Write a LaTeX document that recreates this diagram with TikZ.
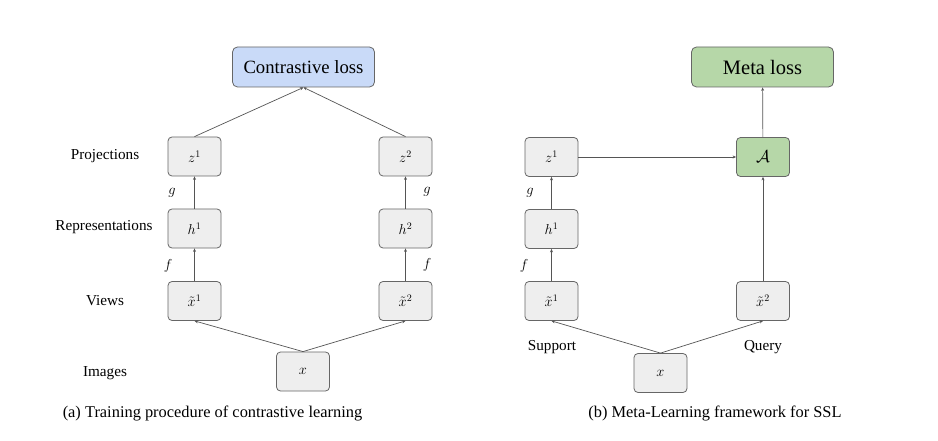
\documentclass[tikz,border=0pt]{standalone}
\usepackage{fontspec}
\setmainfont{Liberation Serif}
\usetikzlibrary{arrows.meta}
\definecolor{boxfill}{HTML}{EEEEEE}
\definecolor{boxdraw}{HTML}{666666}
\definecolor{linec}{HTML}{555555}
\definecolor{bluefill}{HTML}{C9DAF8}
\definecolor{greenfill}{HTML}{B6D7A8}
\tikzset{
  vbox/.style={draw=boxdraw, fill=boxfill, rounded corners=4pt, line width=0.8pt,
    minimum width=53pt, minimum height=39pt, inner sep=0pt, font=\fontsize{14}{16}\selectfont},
  lossbox/.style={draw=boxdraw, rounded corners=5pt, line width=0.8pt,
    minimum width=142pt, minimum height=40pt, inner sep=0pt},
  lbl/.style={font=\fontsize{15.2}{17}\selectfont, inner sep=0pt},
  fn/.style={font=\fontsize{14}{16}\selectfont, inner sep=0pt},
  captxt/.style={font=\fontsize{16.4}{19}\selectfont, inner sep=0pt},
  conn/.style={draw=linec, line width=0.7pt, -{Stealth[length=3.5pt,width=3pt]}}
}
\begin{document}
\begin{tikzpicture}[x=1pt,y=-1pt]
\useasboundingbox[fill=white] (0,0) rectangle (938,441);
% ---- (a) ----
\node[lossbox, fill=bluefill, font=\fontsize{18.7}{21}\selectfont] (closs) at (303.5,67) {Contrastive loss};
\node[vbox] (az1) at (194.5,156.5) {$z^1$};
\node[vbox] (ah1) at (194.5,228.5) {$h^1$};
\node[vbox] (axt1) at (194.5,301) {$\tilde{x}^1$};
\node[vbox] (az2) at (405.5,156.5) {$z^2$};
\node[vbox] (ah2) at (405.5,228.5) {$h^2$};
\node[vbox] (axt2) at (405.5,301) {$\tilde{x}^2$};
\node[vbox] (ax) at (303,371.5) {$x$};
\node[lbl] (lproj) at (105,156) {Projections};
\node[lbl] (lrep) at (104,227) {Representations};
\node[lbl] (lviews) at (105,301) {Views};
\node[lbl] (limg) at (105,373) {Images};
\node[fn] (ag1) at (172,193) {$g$};
\node[fn] (af1) at (168,266) {$f$};
\node[fn] (ag2) at (427,192) {$g$};
\node[fn] (af2) at (427,265) {$f$};
\draw[conn] (ax.north) -- (axt1.south);
\draw[conn] (ax.north) -- (axt2.south);
\draw[conn] (axt1) -- (ah1);
\draw[conn] (ah1) -- (az1);
\draw[conn] (axt2) -- (ah2);
\draw[conn] (ah2) -- (az2);
\draw[conn] (az1.north) -- (closs.south);
\draw[conn] (az2.north) -- (closs.south);
\node[captxt] (capa) at (212.5,413) {(a) Training procedure of contrastive learning};
% ---- (b) ----
\node[lossbox, fill=greenfill, font=\fontsize{20.5}{23}\selectfont] (mloss) at (762.5,67) {Meta loss};
\node[vbox, fill=greenfill, font=\fontsize{17}{19}\selectfont] (bA) at (763,157) {$\mathcal{A}$};
\node[vbox] (bz1) at (551.5,157) {$z^1$};
\node[vbox] (bh1) at (551.5,229) {$h^1$};
\node[vbox] (bxt1) at (551.5,301) {$\tilde{x}^1$};
\node[vbox] (bxt2) at (763,301) {$\tilde{x}^2$};
\node[vbox] (bx) at (660.5,373) {$x$};
\node[lbl] (lsup) at (552,347) {Support};
\node[lbl] (lqry) at (763,347) {Query};
\node[fn] (bg1) at (530,193) {$g$};
\node[fn] (bf1) at (524,266) {$f$};
\draw[conn] (bx.north) -- (bxt1.south);
\draw[conn] (bx.north) -- (bxt2.south);
\draw[conn] (bxt1) -- (bh1);
\draw[conn] (bh1) -- (bz1);
\draw[conn] (bz1) -- (bA);
\draw[conn] (bxt2) -- (bA);
\draw[conn] (bA) -- (mloss);
\node[captxt] (capb) at (715,413) {(b) Meta-Learning framework for SSL};
\end{tikzpicture}
\end{document}
